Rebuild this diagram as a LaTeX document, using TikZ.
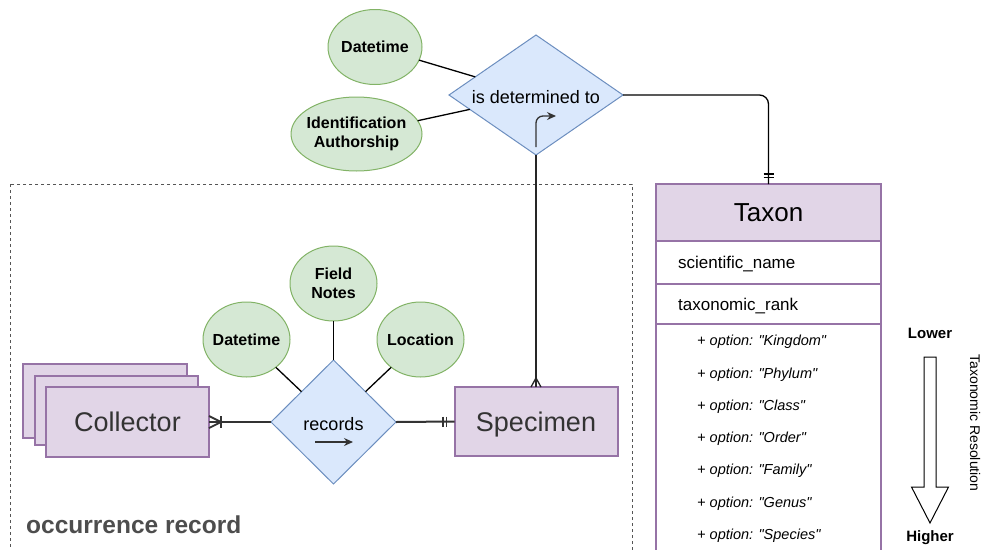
\documentclass[tikz,border=0pt]{standalone}
\usepackage{fontspec}
\setmainfont{Liberation Sans}
\newfontfamily\plainquotes{Liberation Sans}[Ligatures=TeXOff]
\usetikzlibrary{shapes.geometric,arrows.meta,calc}

\definecolor{entfill}{HTML}{E1D5E7}
\definecolor{entline}{HTML}{9673A6}
\definecolor{attfill}{HTML}{D5E8D4}
\definecolor{attline}{HTML}{82B366}
\definecolor{relfill}{HTML}{DAE8FC}
\definecolor{relline}{HTML}{6C8EBF}
\definecolor{darkline}{HTML}{333333}
\definecolor{labelgray}{HTML}{4D4D4D}
\definecolor{boxdash}{HTML}{555555}

\newcommand{\fsz}[2]{\fontsize{#1}{#2}\selectfont}

\begin{document}
\begin{tikzpicture}[x=1pt,y=-1pt,
  entity/.style={rectangle, draw=entline, fill=entfill, line width=2pt,
    inner sep=0pt, outer sep=0pt, minimum width=163pt, text=darkline,
    text height=19.4pt, text depth=0pt, font=\fsz{27}{32}},
  attr/.style={ellipse, draw=attline, fill=attfill, line width=1pt,
    inner sep=0pt, outer sep=0pt},
  attrtext/.style={inner sep=0pt, align=center, font=\bfseries\fsz{16}{19}},
  rel/.style={diamond, draw=relline, fill=relfill, line width=1pt,
    inner sep=0pt, outer sep=0pt},
  reltext/.style={inner sep=0pt, font=\fsz{18}{22}},
  link/.style={draw=black, line width=1.3pt},
  heavylink/.style={draw=darkline, line width=2pt},
  tablerow/.style={rectangle, draw=entline, line width=1.2pt, fill=white,
    inner sep=0pt, outer sep=0pt, minimum width=225pt},
  rowtext/.style={anchor=west, inner sep=0pt, text height=12.2pt,
    text depth=0pt, font=\fsz{17}{20}},
  optiontext/.style={anchor=west, inner sep=0pt, text height=10.4pt,
    text depth=0pt, font=\plainquotes\itshape\fsz{14.5}{17}},
  scaletext/.style={inner sep=0pt, font=\bfseries\fsz{15}{18}},
  smallarrow/.style={draw=darkline, line width=1.3pt,
    -{Stealth[length=9pt,width=8pt]}}
]
\clip (0,0) rectangle (985,549);

% occurrence record frame
\draw[boxdash, line width=1pt, dash pattern=on 3pt off 3pt] (10,184) rectangle (632,575);
\node[anchor=west, inner sep=0pt, font=\bfseries\fsz{24.5}{29}, text=labelgray]
  (occlabel) at (26,525) {occurrence record};

% determination relationship and its attributes
\node[rel, minimum width=174pt, minimum height=120pt] (det) at (536,95) {};
\node[reltext] (detlabel) at (536,97) {is determined to};
\node[attr, minimum width=94pt, minimum height=75pt] (dtA) at (375,47) {};
\node[attrtext] (dtAlabel) at (dtA) {Datetime};
\node[attr, minimum width=131pt, minimum height=74pt] (idA) at (356.5,134) {};
\node[attrtext] (idAlabel) at (idA) {Identification\\Authorship};
\draw[link] (dtA) -- (det);
\draw[link] (idA) -- (det);
\coordinate (detArrowStart) at (536,147);
\coordinate (detArrowEnd) at (556,116);
\draw[smallarrow, rounded corners=7pt] (detArrowStart) |- (detArrowEnd);

% collectors (stacked) and specimen
\node[entity, minimum width=164pt, minimum height=74pt] (colC) at (105,401) {};
\node[entity, minimum height=69pt] (colB) at (116.5,410.5) {};
\node[entity, minimum height=70pt] (col) at (127.5,422) {Collector};
\node[entity, minimum height=69pt] (spec) at (536,421.5) {Specimen};

% recording relationship and its attributes
\node[rel, minimum width=125pt, minimum height=124pt] (rec) at (333.5,422) {};
\node[reltext] (reclabel) at (333.5,424) {records};
\coordinate (recArrowStart) at (315,442);
\coordinate (recArrowEnd) at (353,442);
\draw[smallarrow] (recArrowStart) -- (recArrowEnd);

\node[attr, minimum width=87pt, minimum height=75pt] (dtB) at (246.5,339.5) {};
\node[attrtext] (dtBlabel) at (dtB) {Datetime};
\node[attr, minimum width=87pt, minimum height=75pt] (fnB) at (333.5,283.5) {};
\node[attrtext] (fnBlabel) at (fnB) {Field\\Notes};
\node[attr, minimum width=87pt, minimum height=75pt] (locB) at (420.5,339.5) {};
\node[attrtext] (locBlabel) at (locB) {Location};
\draw[link] (dtB) -- (rec);
\draw[link] (fnB) -- (rec);
\draw[link] (locB) -- (rec);

% collector -- records (one or many)
\draw[heavylink] (col.east) -- (rec.west);
\draw[heavylink, line width=1.8pt] ($(col.east)+(0,-6)$) -- ($(col.east)+(12,0)$) -- ($(col.east)+(0,6)$);
\draw[heavylink, line width=1.8pt] ($(col.east)+(12,-6)$) -- ($(col.east)+(12,6)$);

% records -- specimen (exactly one)
\draw[heavylink] (rec.east) -- (spec.west);
\draw[heavylink, line width=1.8pt] ($(spec.west)+(-11.5,-5)$) -- ($(spec.west)+(-11.5,5)$);
\draw[heavylink, line width=1.8pt] ($(spec.west)+(-8,-5)$) -- ($(spec.west)+(-8,5)$);

% specimen -- determination (many)
\draw[link, draw=black!85, line width=1.5pt] (spec.north) -- (det.south);
\draw[link, draw=black!85] ($(spec.north)+(-5,0)$) -- ($(spec.north)+(0,-9)$) -- ($(spec.north)+(5,0)$);

% taxon table
\node[tablerow, fill=entfill, minimum height=57pt, text height=18.7pt,
  text depth=0pt, font=\fsz{26}{31}] (taxon) at (768.5,212.5) {Taxon};
\node[tablerow, minimum height=43pt] (sci) at (768.5,262.5) {};
\node[rowtext] (scilabel) at ($(sci.west)+(22,0)$) {scientific\_name};
\node[tablerow, minimum height=40pt] (rank) at (768.5,304) {};
\node[rowtext] (ranklabel) at ($(rank.west)+(22,0)$) {taxonomic\_rank};
\node[tablerow, minimum height=250pt, anchor=north] (opts) at (rank.south) {};
\foreach \i/\yy/\name in {1/340/Kingdom, 2/373/Phylum, 3/405/Class, 4/437/Order,
                          5/469/Family, 6/502/Genus, 7/534/Species}
  \node[optiontext] (opt\i) at (697,\yy) {+ option: "\name"};

% determination -- taxon (exactly one)
\draw[link, rounded corners=9pt] (det.east) -| (taxon.north);
\draw[link] ($(taxon.north)+(-5,-10)$) -- ($(taxon.north)+(5,-10)$);
\draw[link] ($(taxon.north)+(-5,-6.5)$) -- ($(taxon.north)+(5,-6.5)$);

% taxonomic resolution scale
\node[scaletext] (lower) at (930,333) {Lower};
\node[scaletext] (higher) at (930,538) {Higher};
\draw[black, line width=1pt, line join=miter]
  (924,357) -- (936,357) -- (936,487) -- (948.5,487) -- (930,523)
  -- (911.5,487) -- (924,487) -- cycle;
\node[inner sep=0pt, rotate=-90, font=\fsz{14}{17}] (resolution) at (975,423) {Taxonomic Resolution};
\end{tikzpicture}
\end{document}
